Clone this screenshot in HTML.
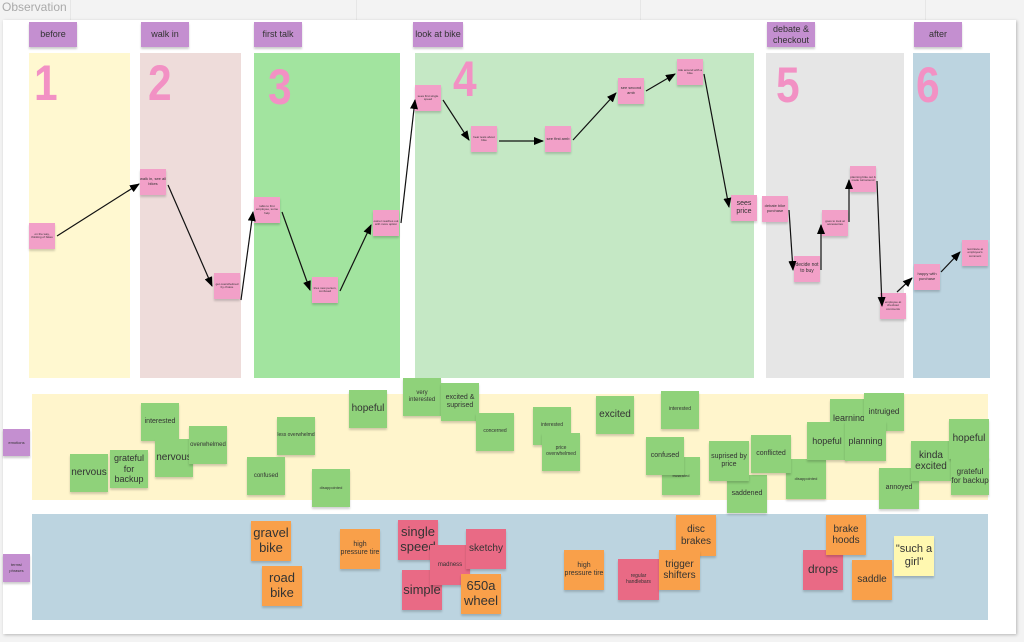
<!DOCTYPE html>
<html><head><meta charset="utf-8"><style>
*{margin:0;padding:0;box-sizing:border-box}
body{width:1024px;height:642px;overflow:hidden;background:#f3f3f3;font-family:"Liberation Sans",sans-serif;position:relative}
.gl{position:absolute;background:#e6e6e6}
.board{position:absolute;left:3px;top:20px;width:1013px;height:614px;background:#fff;box-shadow:1px 1px 3px rgba(0,0,0,.25)}
.a{position:absolute}
.h{position:absolute;background:#c48fd0;color:#333;font-size:9px;display:flex;align-items:center;justify-content:center;text-align:center;line-height:11px;box-shadow:0 2px 2px rgba(0,0,0,.2)}
.num{position:absolute;color:#f291c4;font-size:50px;font-weight:bold;line-height:1;transform:scaleX(0.85);transform-origin:left top}
.s{position:absolute;display:flex;align-items:center;justify-content:center;text-align:center;color:#333;overflow:hidden;box-shadow:0 2px 2px rgba(0,0,0,.18);line-height:1.15}
.p{background:#f2a0c8;font-size:3px;width:26px;height:26px}
.g{background:#8fd27a;font-size:8px;width:38px;height:38px}
.o{background:#f9a04a;font-size:13px;width:40px;height:40px}
.r{background:#e96a85;font-size:13px;width:40px;height:40px}
</style></head><body>
<div class="gl" style="left:70px;top:0;width:1px;height:20px"></div>
<div class="gl" style="left:356px;top:0;width:1px;height:20px"></div>
<div class="gl" style="left:640px;top:0;width:1px;height:20px"></div>
<div class="gl" style="left:925px;top:0;width:1px;height:20px"></div>
<div class="a" style="left:2px;top:0;font-size:12px;color:#aaa">Observation</div>
<div class="board"></div>

<div class="h" style="left:29px;top:22px;width:48px;height:25px">before</div>
<div class="h" style="left:141px;top:22px;width:48px;height:25px">walk in</div>
<div class="h" style="left:254px;top:22px;width:48px;height:25px">first talk</div>
<div class="h" style="left:413px;top:22px;width:50px;height:25px">look at bike</div>
<div class="h" style="left:767px;top:22px;width:48px;height:25px">debate &amp;<br>checkout</div>
<div class="h" style="left:914px;top:22px;width:48px;height:25px">after</div>

<div class="a" style="left:29px;top:53px;width:101px;height:325px;background:#fff8d0"></div>
<div class="a" style="left:140px;top:53px;width:101px;height:325px;background:#eedcda"></div>
<div class="a" style="left:254px;top:53px;width:146px;height:325px;background:#a2e49f"></div>
<div class="a" style="left:415px;top:53px;width:339px;height:325px;background:#c5e8c5"></div>
<div class="a" style="left:766px;top:53px;width:138px;height:325px;background:#e6e6e6"></div>
<div class="a" style="left:913px;top:53px;width:77px;height:325px;background:#bcd4e0"></div>

<div class="num" style="left:34px;top:58px">1</div>
<div class="num" style="left:148px;top:58px">2</div>
<div class="num" style="left:268px;top:62px">3</div>
<div class="num" style="left:453px;top:54px">4</div>
<div class="num" style="left:776px;top:60px">5</div>
<div class="num" style="left:916px;top:60px">6</div>

<div class="a" style="left:32px;top:394px;width:956px;height:106px;background:#fff5cc"></div>
<div class="a" style="left:32px;top:514px;width:956px;height:106px;background:#bcd4e0"></div>
<div class="h" style="left:3px;top:429px;width:27px;height:27px;font-size:4px">emotions</div>
<div class="h" style="left:3px;top:554px;width:27px;height:28px;font-size:4px;line-height:6px">terms/<br>phrases</div>

<div class="s p" style="left:29px;top:223px">on the way, thinking of bikes</div>
<div class="s p" style="left:140px;top:169px;font-size:4px">walk in, see all bikes</div>
<div class="s p" style="left:214px;top:273px">get overwhelmed by choice</div>
<div class="s p" style="left:254px;top:197px">talks to first employee, some help</div>
<div class="s p" style="left:312px;top:277px">tries new person, confused</div>
<div class="s p" style="left:373px;top:210px">owner reaches out with more option</div>
<div class="s p" style="left:415px;top:85px">sees first single speed</div>
<div class="s p" style="left:471px;top:126px">hear tests about bike</div>
<div class="s p" style="left:545px;top:126px;font-size:4px">see first amb</div>
<div class="s p" style="left:618px;top:78px;font-size:4px">see second amb</div>
<div class="s p" style="left:677px;top:59px">ride around with a bike</div>
<div class="s p" style="left:731px;top:195px;font-size:7px">sees price</div>
<div class="s p" style="left:762px;top:196px;font-size:4px">debate bike purchase</div>
<div class="s p" style="left:794px;top:256px;font-size:5px">decide not to buy</div>
<div class="s p" style="left:822px;top:210px">goes to look at accessories</div>
<div class="s p" style="left:850px;top:166px">planning bike out &amp; made turnaround</div>
<div class="s p" style="left:880px;top:293px">employee at checkout comments</div>
<div class="s p" style="left:914px;top:264px;font-size:4px">happy with purchase</div>
<div class="s p" style="left:962px;top:240px">reminisce at employee's comment</div>

<svg class="a" style="left:0;top:0" width="1024" height="642">
<defs><marker id="m" markerWidth="10" markerHeight="8" refX="9" refY="4" orient="auto" markerUnits="userSpaceOnUse"><path d="M0,0L10,4L0,8z" fill="#000"/></marker></defs>
<g stroke="#111" stroke-width="1.2" fill="none" marker-end="url(#m)">
<line x1="57" y1="236" x2="139" y2="184"/>
<line x1="168" y1="185" x2="212" y2="286"/>
<line x1="241" y1="300" x2="253" y2="212"/>
<line x1="282" y1="212" x2="310" y2="290"/>
<line x1="340" y1="291" x2="371" y2="225"/>
<line x1="401" y1="223" x2="415" y2="100"/>
<line x1="443" y1="100" x2="469" y2="140"/>
<line x1="499" y1="141" x2="543" y2="141"/>
<line x1="573" y1="140" x2="616" y2="93"/>
<line x1="646" y1="91" x2="675" y2="74"/>
<line x1="704" y1="74" x2="729" y2="207"/>
<line x1="789" y1="210" x2="793" y2="270"/>
<line x1="821" y1="270" x2="821" y2="225"/>
<line x1="849" y1="222" x2="849" y2="180"/>
<line x1="877" y1="181" x2="882" y2="306"/>
<line x1="897" y1="292" x2="912" y2="278"/>
<line x1="941" y1="272" x2="960" y2="252"/>
</g></svg>

<div class="s g" style="left:70px;top:454px;font-size:10px">nervous</div>
<div class="s g" style="left:110px;top:450px;font-size:9px">grateful for backup</div>
<div class="s g" style="left:141px;top:403px;font-size:7px">interested</div>
<div class="s g" style="left:155px;top:439px;font-size:10px">nervous</div>
<div class="s g" style="left:189px;top:426px;font-size:6px">overwhelmed</div>
<div class="s g" style="left:277px;top:417px;font-size:5px">less overwhelmd</div>
<div class="s g" style="left:247px;top:457px;font-size:6px">confused</div>
<div class="s g" style="left:312px;top:469px;font-size:4px">disappointed</div>
<div class="s g" style="left:349px;top:390px;font-size:10px">hopeful</div>
<div class="s g" style="left:403px;top:378px;font-size:6px">very interested</div>
<div class="s g" style="left:441px;top:383px;font-size:7px">excited &amp; suprised</div>
<div class="s g" style="left:476px;top:413px;font-size:5px">concerned</div>
<div class="s g" style="left:533px;top:407px;font-size:5px">interested</div>
<div class="s g" style="left:542px;top:433px;font-size:5px">price overwhelmed</div>
<div class="s g" style="left:596px;top:396px;font-size:10px">excited</div>
<div class="s g" style="left:661px;top:391px;font-size:5px">interested</div>
<div class="s g" style="left:662px;top:457px;font-size:4px">frustrated</div>
<div class="s g" style="left:646px;top:437px;font-size:7px">confused</div>
<div class="s g" style="left:727px;top:475px;width:40px;font-size:7px">saddened</div>
<div class="s g" style="left:709px;top:441px;width:40px;height:40px;font-size:7px">suprised by price</div>
<div class="s g" style="left:786px;top:459px;width:40px;height:40px;font-size:4px">disappointed</div>
<div class="s g" style="left:751px;top:435px;width:40px;font-size:7px">conflicted</div>
<div class="s g" style="left:830px;top:399px;font-size:9px">learning</div>
<div class="s g" style="left:864px;top:393px;width:40px;font-size:8px">intruiged</div>
<div class="s g" style="left:807px;top:422px;width:40px;font-size:9px">hopeful</div>
<div class="s g" style="left:845px;top:421px;width:41px;height:40px;font-size:9px">planning</div>
<div class="s g" style="left:879px;top:468px;width:40px;height:41px;font-size:7px">annoyed</div>
<div class="s g" style="left:911px;top:441px;width:40px;height:40px;font-size:10px">kinda excited</div>
<div class="s g" style="left:949px;top:419px;width:40px;height:40px;font-size:10px">hopeful</div>
<div class="s g" style="left:951px;top:457px;font-size:8px">grateful for backup</div>

<div class="s o" style="left:251px;top:521px">gravel bike</div>
<div class="s o" style="left:262px;top:566px">road bike</div>
<div class="s o" style="left:340px;top:529px;font-size:7px">high pressure tire</div>
<div class="s r" style="left:398px;top:520px">single speed</div>
<div class="s r" style="left:402px;top:570px">simple</div>
<div class="s r" style="left:430px;top:545px;font-size:6px">madness</div>
<div class="s r" style="left:466px;top:529px;font-size:10px">sketchy</div>
<div class="s o" style="left:461px;top:574px">650a wheel</div>
<div class="s o" style="left:564px;top:550px;font-size:7px">high pressure tire</div>
<div class="s r" style="left:618px;top:559px;width:41px;height:41px;font-size:5px">regular handlebars</div>
<div class="s o" style="left:676px;top:515px;height:41px;font-size:10px">disc brakes</div>
<div class="s o" style="left:659px;top:550px;width:41px;font-size:10px">trigger shifters</div>
<div class="s r" style="left:803px;top:550px;font-size:12px">drops</div>
<div class="s o" style="left:826px;top:515px;font-size:10px">brake hoods</div>
<div class="s o" style="left:852px;top:560px;font-size:10px">saddle</div>
<div class="s" style="left:894px;top:536px;width:40px;height:40px;background:#fff8b0;font-size:11px">"such a girl"</div>
</body></html>
